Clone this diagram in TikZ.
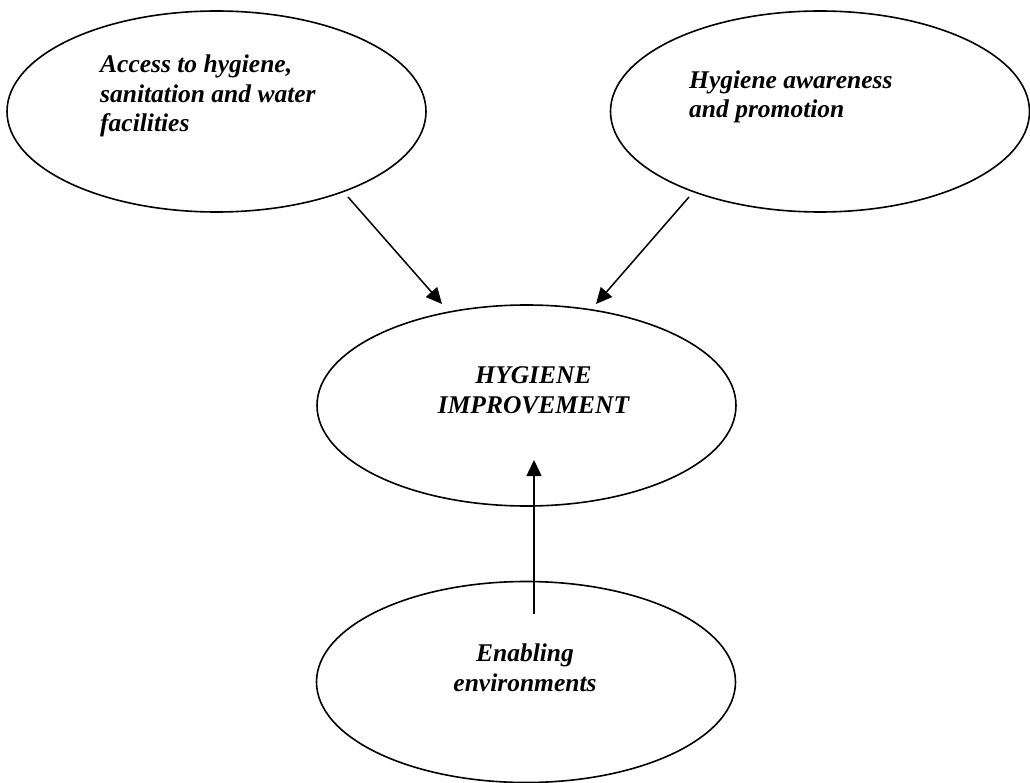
\documentclass[tikz,border=0pt]{standalone}
\usepackage{fontspec}
\setmainfont{Liberation Serif}
\usetikzlibrary{shapes.geometric,arrows.meta}
\begin{document}
\begin{tikzpicture}[x=1pt,y=-1pt,
  bubble/.style={draw,ellipse,line width=1.6pt,minimum width=419pt,minimum height=201pt,inner sep=0pt},
  caption/.style={inner sep=0pt,font=\fontsize{25.5}{29.5}\selectfont\bfseries\itshape},
  link/.style={line width=1.5pt,-{Triangle[length=16pt,width=15pt]}}]
\useasboundingbox (0,0) rectangle (1030,783);

% the four ellipses
\node[bubble] (access)  at (216.5,111.5) {};
\node[bubble] (aware)   at (820,111.5) {};
\node[bubble] (improve) at (526.5,405.5) {};
\node[bubble] (enable)  at (526,682) {};

% their texts (anchored on the baseline of the last line)
\node[caption,align=left,anchor=base west] (accesstext) at (100,132)
  {Access to hygiene,\\sanitation and water\\facilities};
\node[caption,align=left,anchor=base west] (awaretext) at (689,118)
  {Hygiene awareness\\and promotion};
\node[caption,align=center,anchor=base] (improvetext) at (533.5,413)
  {HYGIENE\\IMPROVEMENT};
\node[caption,align=center,anchor=base] (enabletext) at (525,691)
  {Enabling\\environments};

% arrow ends
\coordinate (accessout) at (348,197);
\coordinate (improveinl) at (442,304);
\coordinate (awareout) at (689,197);
\coordinate (improveinr) at (596,304);
\coordinate (enableout) at (534,614);
\coordinate (improveinb) at (534,460);

\draw[link] (accessout) -- (improveinl);
\draw[link] (awareout) -- (improveinr);
\draw[link] (enableout) -- (improveinb);
\end{tikzpicture}
\end{document}
